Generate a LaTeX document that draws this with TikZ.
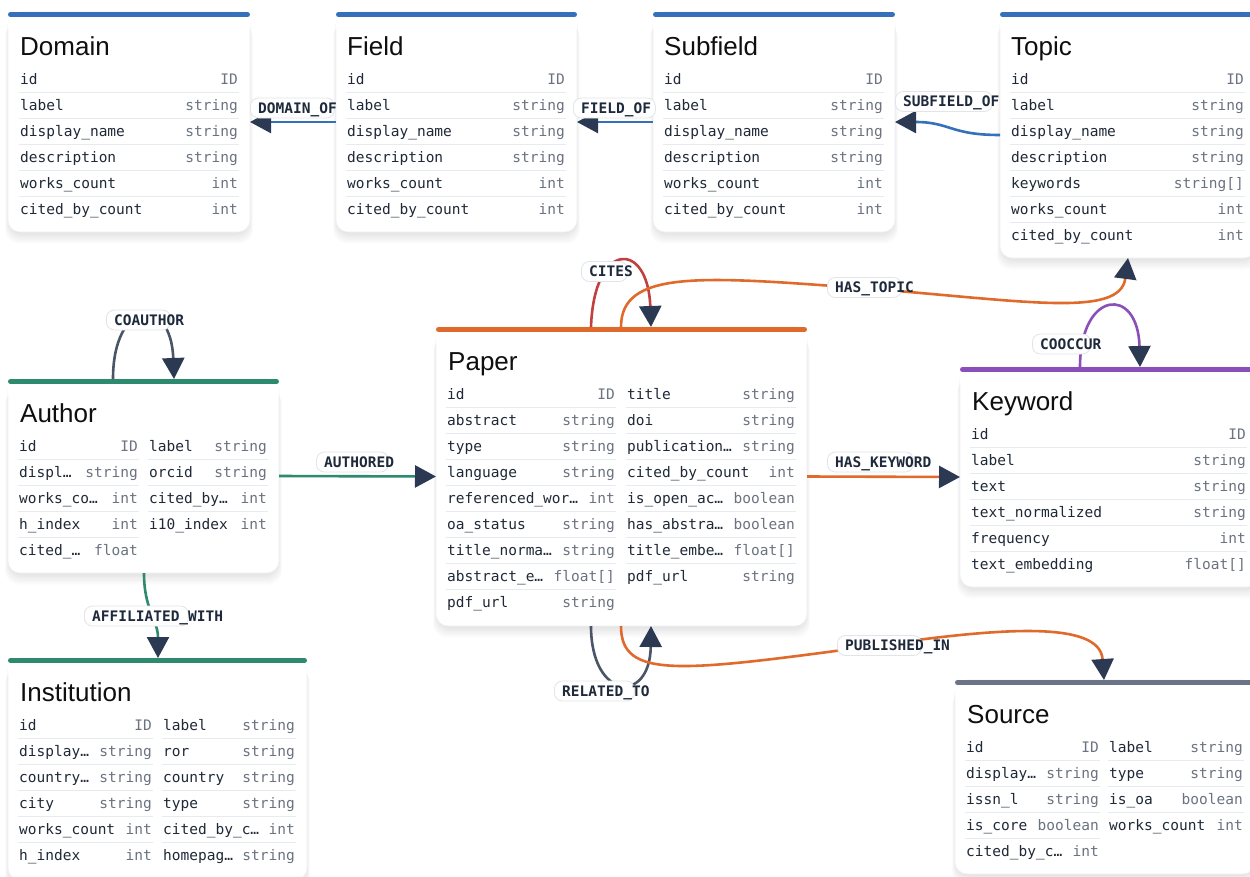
\documentclass[tikz,border=0pt]{standalone}
\usepackage{fontspec}
\usetikzlibrary{arrows.meta,calc}
\newfontfamily\titlef{Liberation Sans}
\newfontfamily\monof{DejaVu Sans Mono}
\definecolor{cblue}{HTML}{3571B8}
\definecolor{cgreen}{HTML}{2E8A6E}
\definecolor{corange}{HTML}{E06A2B}
\definecolor{cpurple}{HTML}{8B4FBA}
\definecolor{cgray}{HTML}{6B7386}
\definecolor{cred}{HTML}{C2413F}
\definecolor{cslate}{HTML}{4A5568}
\definecolor{arrowc}{HTML}{2B3A52}
\definecolor{fieldc}{HTML}{1F2937}
\definecolor{typec}{HTML}{6B7280}
\definecolor{sepc}{HTML}{E7EAEE}
\definecolor{lblborder}{HTML}{E1E4E8}
\definecolor{lbltextc}{HTML}{1E2A3B}
\definecolor{titlec}{HTML}{0F0F0F}
\definecolor{cardborder}{HTML}{EEF0F3}
\tikzset{
  cardbox/.style={rectangle, inner sep=0pt, outer sep=0pt, draw=none},
  fname/.style={inner sep=0pt, font=\monof\fontsize{14.5}{17}\selectfont, text=fieldc},
  ftype/.style={inner sep=0pt, font=\monof\fontsize{14.5}{17}\selectfont, text=typec},
  ttl/.style={inner sep=0pt, font=\titlef\fontsize{26}{30}\selectfont, text=titlec, anchor=base west},
  sepline/.style={draw=sepc, line width=0.9pt},
  conn/.style={line width=2.6pt, -{Triangle[length=21pt,width=22pt,color=arrowc]}},
  lblbox/.style={rectangle, rounded corners=8pt, fill=white, draw=lblborder, line width=0.8pt, minimum height=20pt, inner sep=0pt, anchor=west},
  lbltext/.style={inner sep=0pt, font=\monof\bfseries\fontsize{14.5}{17}\selectfont, text=lbltextc, anchor=base west},
}
\newcommand{\drawcard}[2]{%
  \foreach \k in {1,...,9}{%
    \fill[black, opacity=0.011, rounded corners=14pt] ($(#1.north west)+(-0.5*\k+1.5,1.3*\k)$) rectangle ($(#1.south east)+(0.5*\k-1.5,1.3*\k)$);
  }
  \path[fill=white, draw=cardborder, line width=0.6pt, rounded corners=12pt] (#1.south west) rectangle (#1.north east);
  \fill[#2, rounded corners=2.5pt] (#1.north west) rectangle ($(#1.north east)+(0,5)$);
  \fill[white] ($(#1.north west)+(0.4,5)$) rectangle ($(#1.north east)+(-0.4,16)$);
}
\newcommand{\rowlist}[6]{%
  \foreach \fa/\fb [count=\i from 0] in {#6}{%
    \pgfmathsetmacro{\yy}{#4+26.1*\i}%
    \node[fname, anchor=base west] (#1n\i) at (#2,\yy) {\fa};
    \node[ftype, anchor=base east] (#1t\i) at (#3,\yy) {\fb};
    \ifnum\i<#5\relax \draw[sepline] (#2-1,\yy+8) -- (#3+1,\yy+8);\fi
  }}
\newcommand{\elabel}[5]{%
  \node[lblbox, minimum width=#4pt] (#1) at (#2,#3) {};
  \node[lbltext] (#1t) at (#2+8,#3+5.2) {#5};}
\begin{document}
\begin{tikzpicture}[x=1pt,y=-1pt]
\useasboundingbox (0,0) rectangle (1250,876);
\clip (0,0) rectangle (1250,876);
\fill[white] (0,0) rectangle (1250,876);

% card frames
\node[cardbox, minimum width=242pt, minimum height=220pt] (domain) at (129,122) {};
\node[cardbox, minimum width=241pt, minimum height=220pt] (field) at (456.5,122) {};
\node[cardbox, minimum width=242pt, minimum height=220pt] (subfield) at (774,122) {};
\node[cardbox, minimum width=256pt, minimum height=246pt] (topic) at (1128,135) {};
\node[cardbox, minimum width=271pt, minimum height=194pt] (author) at (143.5,476) {};
\node[cardbox, minimum width=371pt, minimum height=299pt] (paper) at (621.5,476.5) {};
\node[cardbox, minimum width=299pt, minimum height=220pt] (keyword) at (1109.5,477) {};
\node[cardbox, minimum width=299pt, minimum height=222pt] (institution) at (157.5,769) {};
\node[cardbox, minimum width=300pt, minimum height=194pt] (source) at (1105,777) {};

\drawcard{domain}{cblue}
\drawcard{field}{cblue}
\drawcard{subfield}{cblue}
\drawcard{topic}{cblue}
\drawcard{author}{cgreen}
\drawcard{paper}{corange}
\drawcard{keyword}{cpurple}
\drawcard{institution}{cgreen}
\drawcard{source}{cgray}

% titles
\node[ttl] (domainT) at ($(domain.north west)+(12,43)$) {Domain};
\node[ttl] (fieldT) at ($(field.north west)+(11,43)$) {Field};
\node[ttl] (subfieldT) at ($(subfield.north west)+(11,43)$) {Subfield};
\node[ttl] (topicT) at ($(topic.north west)+(11,43)$) {Topic};
\node[ttl] (authorT) at ($(author.north west)+(12,43)$) {Author};
\node[ttl] (paperT) at ($(paper.north west)+(12,43)$) {Paper};
\node[ttl] (keywordT) at ($(keyword.north west)+(12,43)$) {Keyword};
\node[ttl] (institutionT) at ($(institution.north west)+(12,43)$) {Institution};
\node[ttl] (sourceT) at ($(source.north west)+(12,43)$) {Source};

% rows
\rowlist{dom}{20}{238}{84}{5}{id/ID, label/string, display\_name/string, description/string, works\_count/int, cited\_by\_count/int}
\rowlist{fld}{347}{565}{84}{5}{id/ID, label/string, display\_name/string, description/string, works\_count/int, cited\_by\_count/int}
\rowlist{sub}{664}{883}{84}{5}{id/ID, label/string, display\_name/string, description/string, works\_count/int, cited\_by\_count/int}
\rowlist{top}{1011}{1244}{84}{6}{id/ID, label/string, display\_name/string, description/string, keywords/string[], works\_count/int, cited\_by\_count/int}
\rowlist{auA}{19}{138}{451}{4}{id/ID, displ…/string, works\_co…/int, h\_index/int, cited\_…/float}
\rowlist{auB}{149}{267}{451}{3}{label/string, orcid/string, cited\_by…/int, i10\_index/int}
\rowlist{paA}{447}{615}{399}{8}{id/ID, abstract/string, type/string, language/string, referenced\_wor…/int, oa\_status/string, title\_norma…/string, abstract\_e…/float[], pdf\_url/string}
\rowlist{paB}{627}{795}{399}{7}{title/string, doi/string, publication…/string, cited\_by\_count/int, is\_open\_ac…/boolean, has\_abstra…/boolean, title\_embe…/float[], pdf\_url/string}
\rowlist{kw}{971}{1246}{439}{5}{id/ID, label/string, text/string, text\_normalized/string, frequency/int, text\_embedding/float[]}
\rowlist{inA}{19}{152}{730}{5}{id/ID, display…/string, country…/string, city/string, works\_count/int, h\_index/int}
\rowlist{inB}{163}{295}{730}{5}{label/string, ror/string, country/string, type/string, cited\_by\_c…/int, homepag…/string}
\rowlist{srA}{966}{1099}{752}{4}{id/ID, display…/string, issn\_l/string, is\_core/boolean, cited\_by\_c…/int}
\rowlist{srB}{1109}{1243}{752}{3}{label/string, type/string, is\_oa/boolean, works\_count/int}

% connectors
\draw[conn, draw=cblue] (field.west) -- (domain.east);
\draw[conn, draw=cblue] (subfield.west) -- (field.east);
\draw[conn, draw=cblue] (topic.west) .. controls +(-50,0) and +(55,0) .. (subfield.east);
\draw[conn, draw=cslate] ($(author.north west)+(105,0)$) .. controls +(0,-80) and +(-3,-85) .. ($(author.north west)+(166,0)$);
\draw[conn, draw=cgreen] (author.east) -- (paper.west);
\draw[conn, draw=cgreen] ($(author.south west)+(136,0)$) .. controls +(0,37) and +(0,-38) .. ($(institution.north west)+(150,0)$);
\draw[conn, draw=cred] ($(paper.north west)+(155,0)$) .. controls +(3,-87) and +(-3,-87) .. ($(paper.north west)+(215,0)$);
\coordinate (htmid) at (860,288);
\draw[conn, draw=corange] ($(paper.north west)+(185,0)$) .. controls +(0,-57) and +(-160,-12) .. (htmid) .. controls +(160,12) and +(-8,61) .. ($(topic.south west)+(128,0)$);
\draw[conn, draw=cpurple] ($(keyword.north west)+(120,0)$) .. controls +(0,-77) and +(-2,-82) .. ($(keyword.north west)+(180,0)$);
\draw[conn, draw=corange] (paper.east) -- (keyword.west);
\draw[conn, draw=cslate] ($(paper.south west)+(155,0)$) .. controls +(0,74) and +(-1,79) .. ($(paper.south west)+(215,0)$);
\coordinate (pimid) at (880,645);
\draw[conn, draw=corange] ($(paper.south west)+(185,0)$) .. controls +(0,54) and +(-200,27) .. (pimid) .. controls +(120,-17) and +(-4,-60) .. ($(source.north west)+(149,0)$);

% labels
\elabel{lDomainOf}{250}{108}{84}{DOMAIN\_OF}
\elabel{lFieldOf}{573}{108}{82}{FIELD\_OF}
\elabel{lSubfieldOf}{895}{101.5}{97}{SUBFIELD\_OF}
\elabel{lCoauthor}{106}{320}{64}{COAUTHOR}
\elabel{lAuthored}{316}{462}{72}{AUTHORED}
\elabel{lAffil}{84}{616}{104}{AFFILIATED\_WITH}
\elabel{lCites}{581}{271.5}{46}{CITES}
\elabel{lHasTopic}{827}{287.5}{74}{HAS\_TOPIC}
\elabel{lCooccur}{1032}{344}{58}{COOCCUR}
\elabel{lHasKeyword}{827}{462}{86}{HAS\_KEYWORD}
\elabel{lRelated}{554}{691}{80}{RELATED\_TO}
\elabel{lPublished}{837}{645.5}{84}{PUBLISHED\_IN}
\end{tikzpicture}
\end{document}
